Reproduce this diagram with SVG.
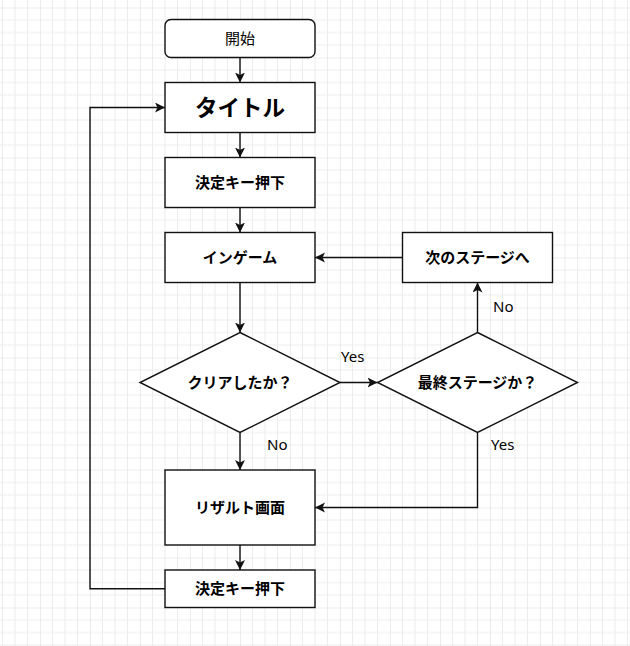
<svg xmlns="http://www.w3.org/2000/svg" width="630" height="646" viewBox="0 0 630 646">
<style>
.box{fill:#fff;stroke:#111;stroke-width:1.4}
.ln{fill:none;stroke:#111;stroke-width:1.4}
.t{font-family:"Noto Sans CJK JP","Noto Sans",sans-serif;font-size:15px;fill:#000;text-anchor:middle}
.b{font-weight:bold}
.lbl{font-family:"Noto Sans","Noto Sans CJK JP",sans-serif;font-size:15px;fill:#000}
</style>
<defs>
<pattern id="grid" x="40" y="7.5" width="50" height="50" patternUnits="userSpaceOnUse">
<path d="M12.5 0V50M25 0V50M37.5 0V50M0 12.5H50M0 25H50M0 37.5H50" fill="none" stroke="#ececec" stroke-width="1"/>
<path d="M0 0V50M0 0H50" fill="none" stroke="#d9d9d9" stroke-width="1"/>
</pattern>
<marker id="arr" markerUnits="userSpaceOnUse" markerWidth="12" markerHeight="12" refX="10" refY="5" orient="auto" viewBox="0 0 12 12">
<path d="M0,0 L10,5 L0,10 L2.5,5 Z" fill="#111"/>
</marker>
</defs>
<rect width="630" height="646" fill="#fff"/>
<rect width="630" height="646" fill="url(#grid)"/>
<g id="connectors">
<path class="ln" d="M240 57.5V82.5" marker-end="url(#arr)"/>
<path class="ln" d="M240 132.5V157.5" marker-end="url(#arr)"/>
<path class="ln" d="M240 207.5V232.5" marker-end="url(#arr)"/>
<path class="ln" d="M240 282.5V332.5" marker-end="url(#arr)"/>
<path class="ln" d="M340 382.5H377.5" marker-end="url(#arr)"/>
<path class="ln" d="M240 432.5V470" marker-end="url(#arr)"/>
<path class="ln" d="M477.5 332.5V282.5" marker-end="url(#arr)"/>
<path class="ln" d="M477.5 432.5V507.5H315" marker-end="url(#arr)"/>
<path class="ln" d="M402.5 257.5H315" marker-end="url(#arr)"/>
<path class="ln" d="M240 545V570" marker-end="url(#arr)"/>
<path class="ln" d="M165 588.75H90V107.5H165" marker-end="url(#arr)"/>
<text class="lbl" x="341" y="362">Yes</text>
<text class="lbl" x="267" y="450">No</text>
<text class="lbl" x="493" y="312">No</text>
<text class="lbl" x="491" y="450">Yes</text>
</g>
<g id="start">
<rect class="box" x="165" y="19.5" width="150" height="38" rx="6"/>
<text class="t" x="240" y="44">開始</text>
</g>
<g id="title">
<rect class="box" x="165" y="82.5" width="150" height="50"/>
<text class="t b" x="240" y="115.5" style="font-size:22.5px">タイトル</text>
</g>
<g id="key1">
<rect class="box" x="165" y="157.5" width="150" height="50"/>
<text class="t b" x="240" y="188">決定キー押下</text>
</g>
<g id="ingame">
<rect class="box" x="165" y="232.5" width="150" height="50"/>
<text class="t b" x="240" y="263">インゲーム</text>
</g>
<g id="next">
<rect class="box" x="402.5" y="232.5" width="150" height="50"/>
<text class="t b" x="477.5" y="263">次のステージへ</text>
</g>
<g id="cleared">
<polygon class="box" points="240,332.5 340,382.5 240,432.5 140,382.5"/>
<text class="t b" x="240" y="388">クリアしたか？</text>
</g>
<g id="last">
<polygon class="box" points="477.5,332.5 577.5,382.5 477.5,432.5 377.5,382.5"/>
<text class="t b" x="477.5" y="388">最終ステージか？</text>
</g>
<g id="result">
<rect class="box" x="165" y="470" width="150" height="75"/>
<text class="t b" x="240" y="512.5">リザルト画面</text>
</g>
<g id="key2">
<rect class="box" x="165" y="570" width="150" height="37.5"/>
<text class="t b" x="240" y="594">決定キー押下</text>
</g>
</svg>
